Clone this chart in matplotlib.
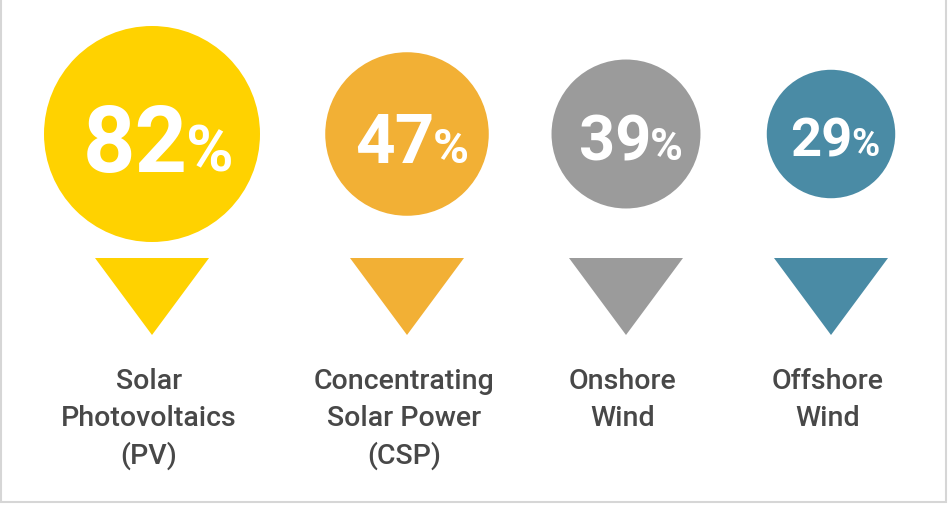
import numpy as np
import matplotlib.pyplot as plt
from matplotlib.patches import Circle, Polygon, Rectangle

# Данные
labels = ["Solar\nPhotovoltaics\n(PV)", "Concentrating\nSolar Power\n(CSP)",
          "Onshore\nWind", "Offshore\nWind"]
values = [82, 47, 39, 29]
colors = ["#FFD200", "#F2B035", "#9B9B9B", "#4A8BA5"]
centers_x = [152, 407, 626, 831]

W, H = 948, 509
fig = plt.figure(figsize=(W / 100, H / 100), dpi=100)
ax = fig.add_axes([0, 0, 1, 1])
ax.set_xlim(0, W)
ax.set_ylim(H, 0)
ax.axis("off")

# рамка
ax.add_patch(Rectangle((1, -5), W - 3, H - 2, fill=False, edgecolor="#d6d6d6", lw=1.5))

cy = 134
k = 108 / np.sqrt(82)  # площадь круга пропорциональна значению
fig.canvas.draw()
renderer = fig.canvas.get_renderer()

for cx, v, col, lab in zip(centers_x, values, colors, labels):
    r = k * np.sqrt(v)
    ax.add_patch(Circle((cx, cy), r, color=col, lw=0))
    # треугольник-указатель
    ax.add_patch(Polygon([(cx - 57, 258), (cx + 57, 258), (cx, 335)], closed=True,
                         color=col, lw=0))

    # число + знак процента разным размером
    fs_num = 0.61 * r
    fs_pct = 0.43 * r
    base = cy + 0.35 * r
    t1 = ax.text(0, base, str(v), fontsize=fs_num, fontfamily="Roboto", fontweight="bold",
                 color="white", ha="left", va="baseline")
    t2 = ax.text(0, base, "%", fontsize=fs_pct, fontfamily="Roboto", fontweight="bold",
                 color="white", ha="left", va="baseline")
    w1 = t1.get_window_extent(renderer).width
    w2 = t2.get_window_extent(renderer).width
    gap = -0.02 * r
    x0 = cx + 0.06 * r - (w1 + gap + w2) / 2
    t1.set_x(x0)
    t2.set_x(x0 + w1 + gap)

    ax.text(cx - 3, 368, lab, fontsize=20.5, fontfamily="Roboto", fontweight="medium",
            color="#484848", ha="center", va="top", linespacing=1.46)

fig.savefig("out.png", dpi=100)
